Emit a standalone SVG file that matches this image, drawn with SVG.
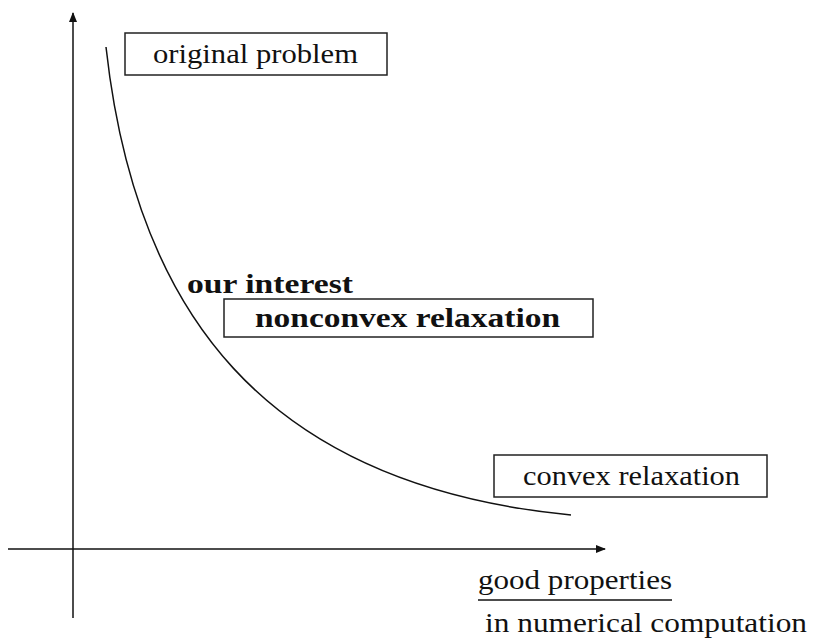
<svg xmlns="http://www.w3.org/2000/svg" width="820" height="644" viewBox="0 0 820 644">
<style>
.t{font-family:'Liberation Serif','Times New Roman',Times,serif;font-size:28px;fill:#111}
.b{font-weight:bold}
.box{fill:none;stroke:#222;stroke-width:1.5}
.ln{fill:none;stroke:#111;stroke-width:1.5}
</style>
<defs>
<marker id="ah" markerWidth="10" markerHeight="8" refX="9" refY="4" orient="auto" markerUnits="userSpaceOnUse">
<path d="M0,0 L10,4 L0,8 Z" fill="#111"/>
</marker>
</defs>
<g id="connectors">
<line class="ln" x1="73" y1="618" x2="73" y2="13" marker-end="url(#ah)"/>
<line class="ln" x1="8" y1="549" x2="605" y2="549" marker-end="url(#ah)"/>
<path class="ln" d="M106,47 C135,310 262,485 571,515"/>
<line class="ln" x1="478" y1="600" x2="672" y2="600" stroke-width="2"/>
</g>
<g id="original">
<rect class="box" x="125" y="33" width="262" height="42"/>
<text class="t" x="153" y="63" textLength="205" lengthAdjust="spacingAndGlyphs">original problem</text>
</g>
<g id="interest">
<text class="t b" x="187" y="293" textLength="166" lengthAdjust="spacingAndGlyphs">our interest</text>
</g>
<g id="nonconvex">
<rect class="box" x="224" y="299" width="369" height="38"/>
<text class="t b" x="255" y="327" textLength="305" lengthAdjust="spacingAndGlyphs">nonconvex relaxation</text>
</g>
<g id="convex">
<rect class="box" x="494" y="455" width="273" height="42"/>
<text class="t" x="523" y="485" textLength="217" lengthAdjust="spacingAndGlyphs">convex relaxation</text>
</g>
<g id="xlabel">
<text class="t" x="478" y="589" textLength="194" lengthAdjust="spacingAndGlyphs">good properties</text>
<text class="t" x="485" y="632" textLength="322" lengthAdjust="spacingAndGlyphs">in numerical computation</text>
</g>
</svg>
